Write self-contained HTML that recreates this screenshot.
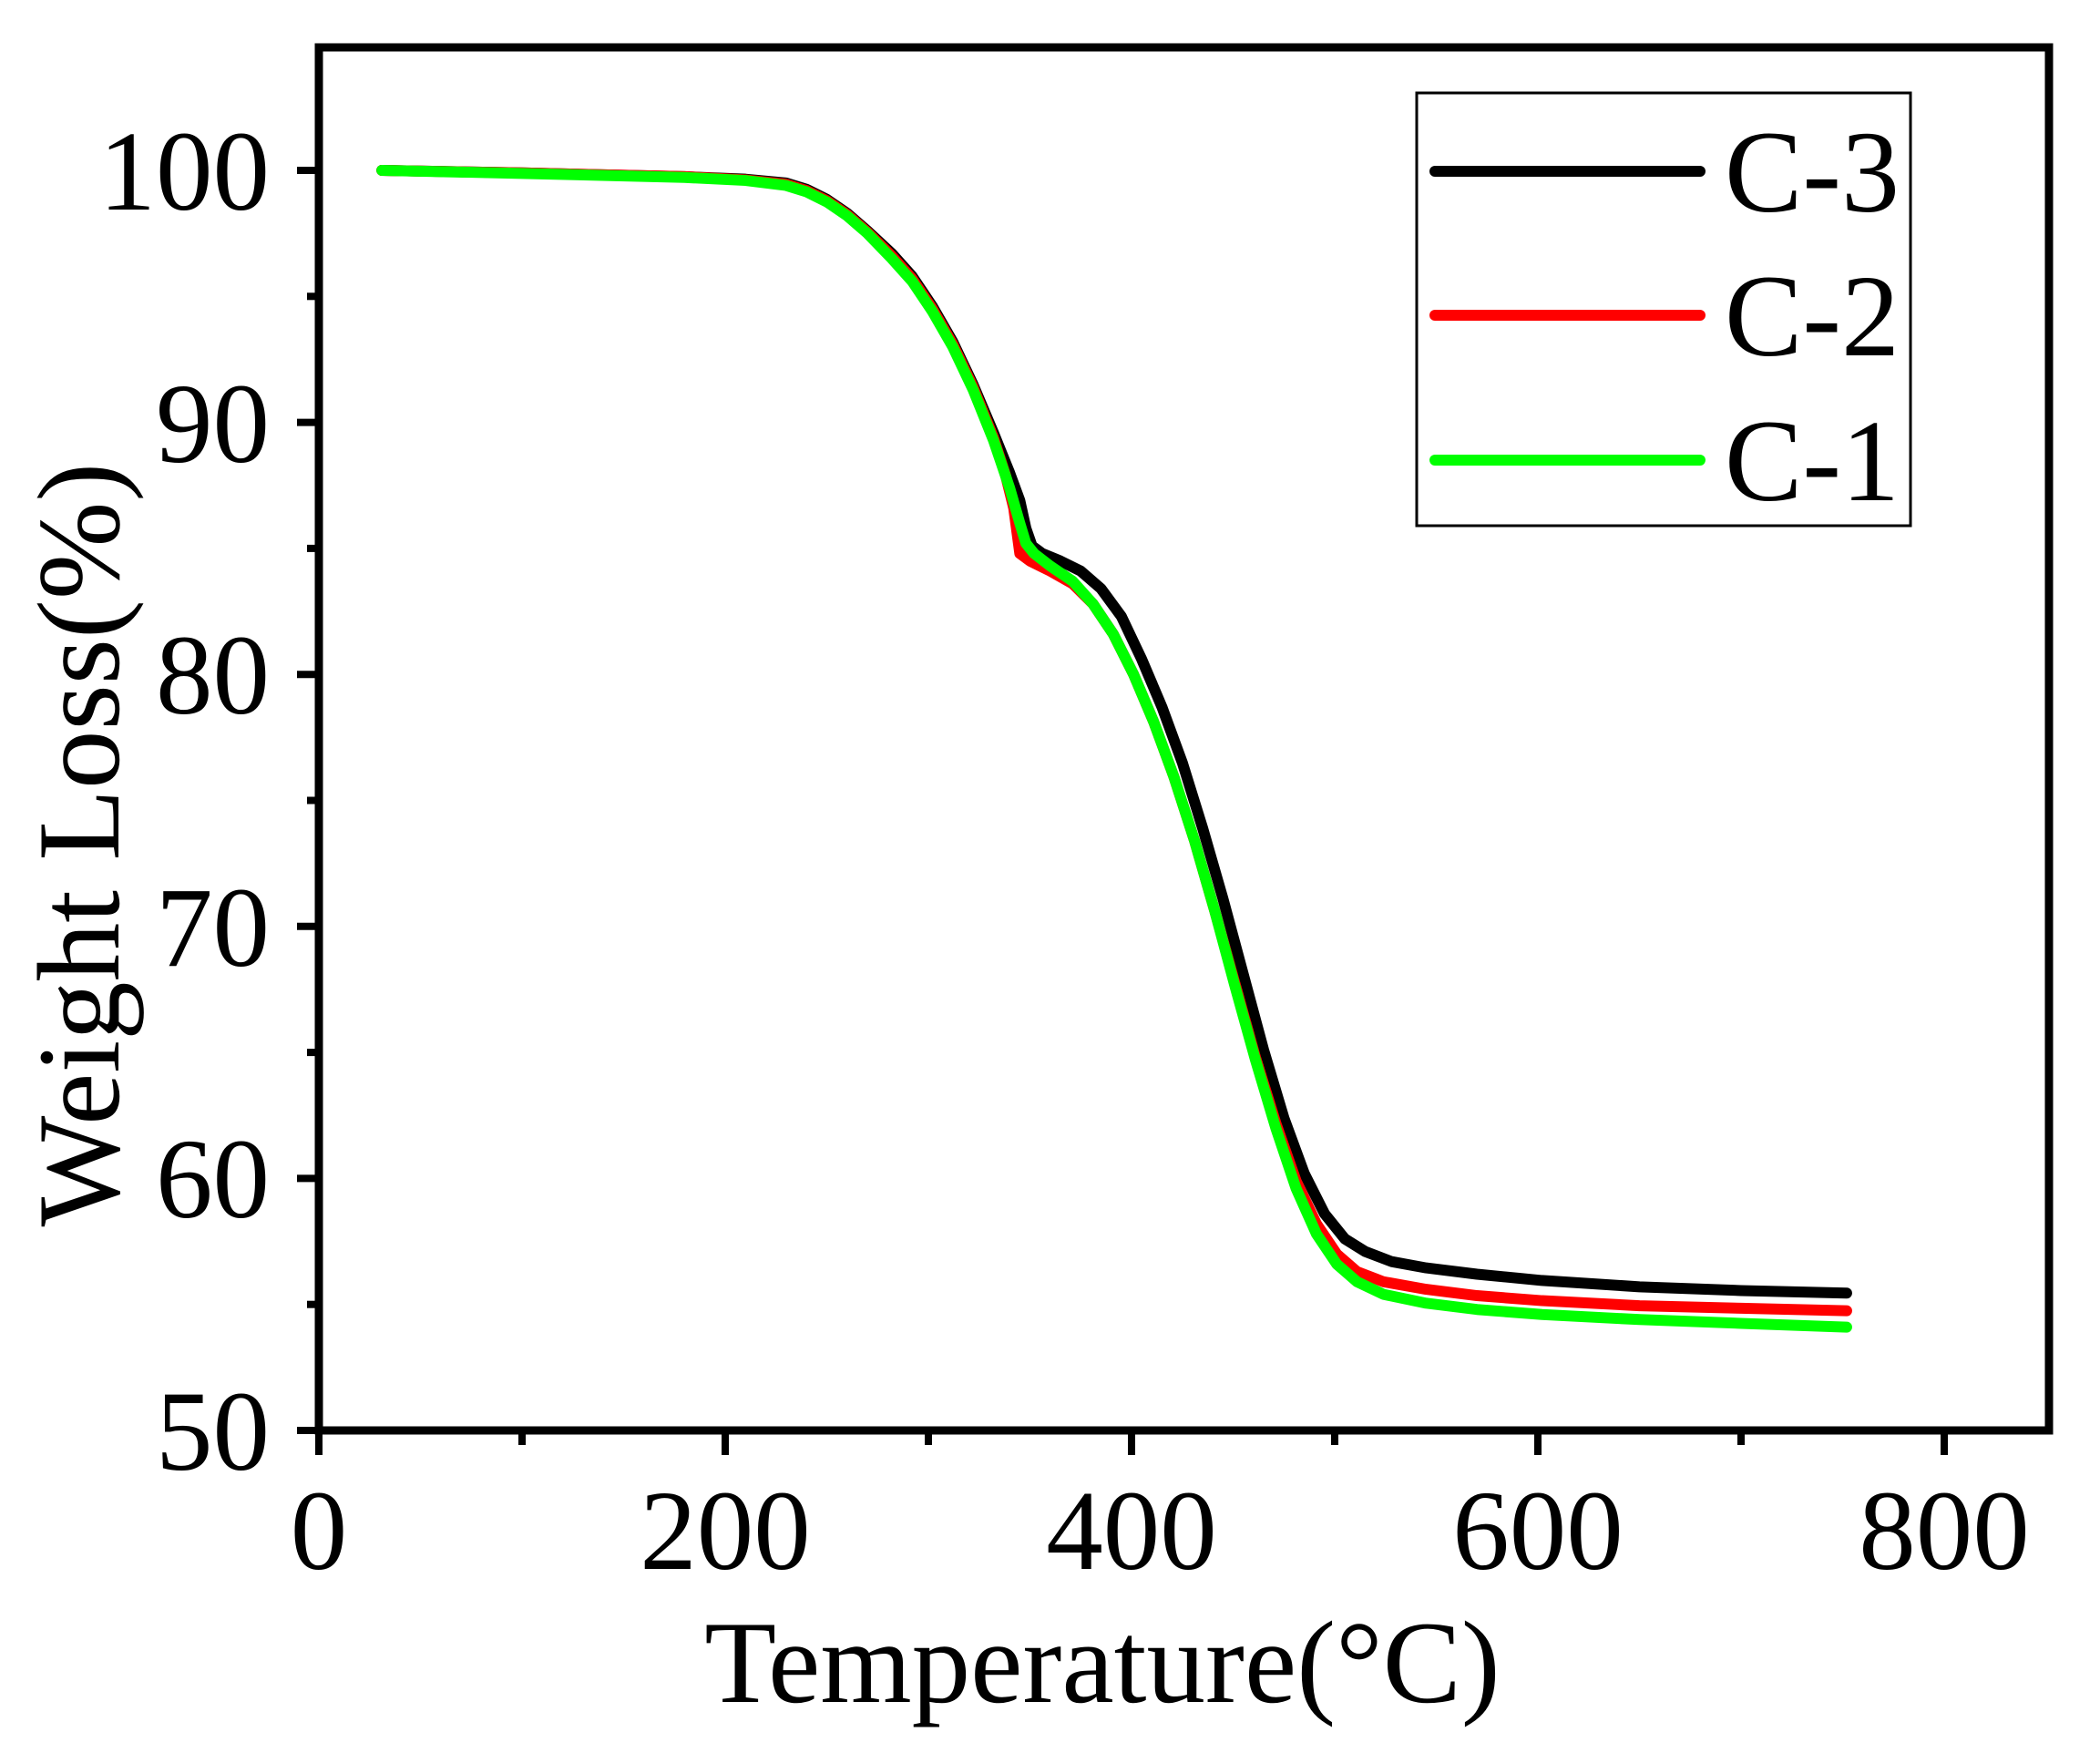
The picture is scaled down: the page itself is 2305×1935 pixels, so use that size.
<!DOCTYPE html>
<html><head><style>html,body{margin:0;padding:0;background:#fff}svg{display:block}</style></head>
<body>
<svg width="2305" height="1935" viewBox="0 0 2305 1935" xmlns="http://www.w3.org/2000/svg" font-family="'Liberation Serif', serif">
<rect width="2305" height="1935" fill="#fff"/>
<g transform="translate(350,2953) scale(2.230,-27.66)" fill="none" stroke-linejoin="round" stroke-linecap="round">
<polyline vector-effect="non-scaling-stroke" stroke="#000" stroke-width="12" points="31,100 100,99.9 180,99.75 210,99.65 230,99.5 240,99.25 250,98.85 260,98.3 270,97.6 282,96.7 292,95.8 302,94.6 312,93.2 322,91.5 332,89.6 340,88.0 345,86.9 348,85.8 351,85.1 356,84.8 365,84.5 375,84.1 385,83.4 395,82.3 405,80.6 415,78.7 425,76.5 435,73.9 445,71.1 455,68.1 465,65.1 475,62.4 485,60.2 495,58.6 505,57.6 515,57.1 528,56.7 545,56.45 570,56.2 602,55.95 650,55.7 700,55.55 752,55.45"/>
<polyline vector-effect="non-scaling-stroke" stroke="#ff0000" stroke-width="12" points="31,100 100,99.9 180,99.75 210,99.62 230,99.45 240,99.2 250,98.8 260,98.25 270,97.55 282,96.6 292,95.7 302,94.5 312,93.1 322,91.4 332,89.4 338,87.9 342,86.6 345,84.8 350,84.5 360,84.1 371,83.6 381,82.8 391,81.6 401,80.0 411,78.1 421,75.9 431,73.4 441,70.6 451,67.7 461,64.8 471,62.2 481,59.9 491,58.2 501,57.0 511,56.3 524,55.9 545,55.6 570,55.35 602,55.15 650,54.95 700,54.85 752,54.75"/>
<polyline vector-effect="non-scaling-stroke" stroke="#00ff00" stroke-width="12" points="31,100 100,99.88 180,99.72 210,99.6 230,99.4 240,99.15 250,98.75 260,98.2 270,97.5 282,96.5 292,95.6 302,94.4 312,93.0 322,91.3 332,89.3 340,87.4 345,86.0 348,85.2 352,84.8 360,84.3 371,83.7 381,82.8 391,81.6 401,80.0 411,78.1 421,75.9 431,73.4 441,70.6 451,67.6 461,64.7 471,62.0 481,59.6 491,57.8 501,56.6 511,55.9 524,55.4 545,55.05 570,54.8 602,54.6 650,54.4 700,54.25 752,54.1"/>
</g>
<rect x="350" y="52" width="1899" height="1518" fill="none" stroke="#000" stroke-width="9"/>
<g stroke="#000" stroke-width="8">
<line x1="350" y1="1570" x2="350" y2="1597"/>
<line x1="796" y1="1570" x2="796" y2="1597"/>
<line x1="1242" y1="1570" x2="1242" y2="1597"/>
<line x1="1688" y1="1570" x2="1688" y2="1597"/>
<line x1="2134" y1="1570" x2="2134" y2="1597"/>
<line x1="573" y1="1570" x2="573" y2="1586"/>
<line x1="1019" y1="1570" x2="1019" y2="1586"/>
<line x1="1465" y1="1570" x2="1465" y2="1586"/>
<line x1="1911" y1="1570" x2="1911" y2="1586"/>
<line x1="350" y1="1570" x2="326" y2="1570"/>
<line x1="350" y1="1293.4" x2="326" y2="1293.4"/>
<line x1="350" y1="1016.8" x2="326" y2="1016.8"/>
<line x1="350" y1="740.2" x2="326" y2="740.2"/>
<line x1="350" y1="463.6" x2="326" y2="463.6"/>
<line x1="350" y1="187" x2="326" y2="187"/>
<line x1="350" y1="1431.7" x2="337" y2="1431.7"/>
<line x1="350" y1="1155.1" x2="337" y2="1155.1"/>
<line x1="350" y1="878.5" x2="337" y2="878.5"/>
<line x1="350" y1="601.9" x2="337" y2="601.9"/>
<line x1="350" y1="325.3" x2="337" y2="325.3"/>
</g>
<g font-size="125" fill="#000" text-anchor="end">
<text x="296" y="1613">50</text>
<text x="296" y="1336">60</text>
<text x="296" y="1060">70</text>
<text x="296" y="783">80</text>
<text x="296" y="507">90</text>
<text x="296" y="230">100</text>
</g>
<g font-size="125" fill="#000" text-anchor="middle">
<text x="350" y="1722">0</text>
<text x="796" y="1722">200</text>
<text x="1242" y="1722">400</text>
<text x="1688" y="1722">600</text>
<text x="2134" y="1722">800</text>
</g>
<text x="1210" y="1868" font-size="129" text-anchor="middle" fill="#000">Temperature(°C)</text>
<text transform="translate(130,927) rotate(-90)" font-size="129" text-anchor="middle" fill="#000">Weight Loss(%)</text>
<rect x="1555" y="102" width="542" height="475" fill="none" stroke="#000" stroke-width="3"/>
<g stroke-width="12" stroke-linecap="round">
<line x1="1575" y1="188" x2="1866" y2="188" stroke="#000"/>
<line x1="1575" y1="346" x2="1866" y2="346" stroke="#ff0000"/>
<line x1="1575" y1="505" x2="1866" y2="505" stroke="#00ff00"/>
</g>
<g font-size="128" fill="#000">
<text x="1893" y="232">C-3</text>
<text x="1893" y="390">C-2</text>
<text x="1893" y="549">C-1</text>
</g>
</svg>
</body></html>
